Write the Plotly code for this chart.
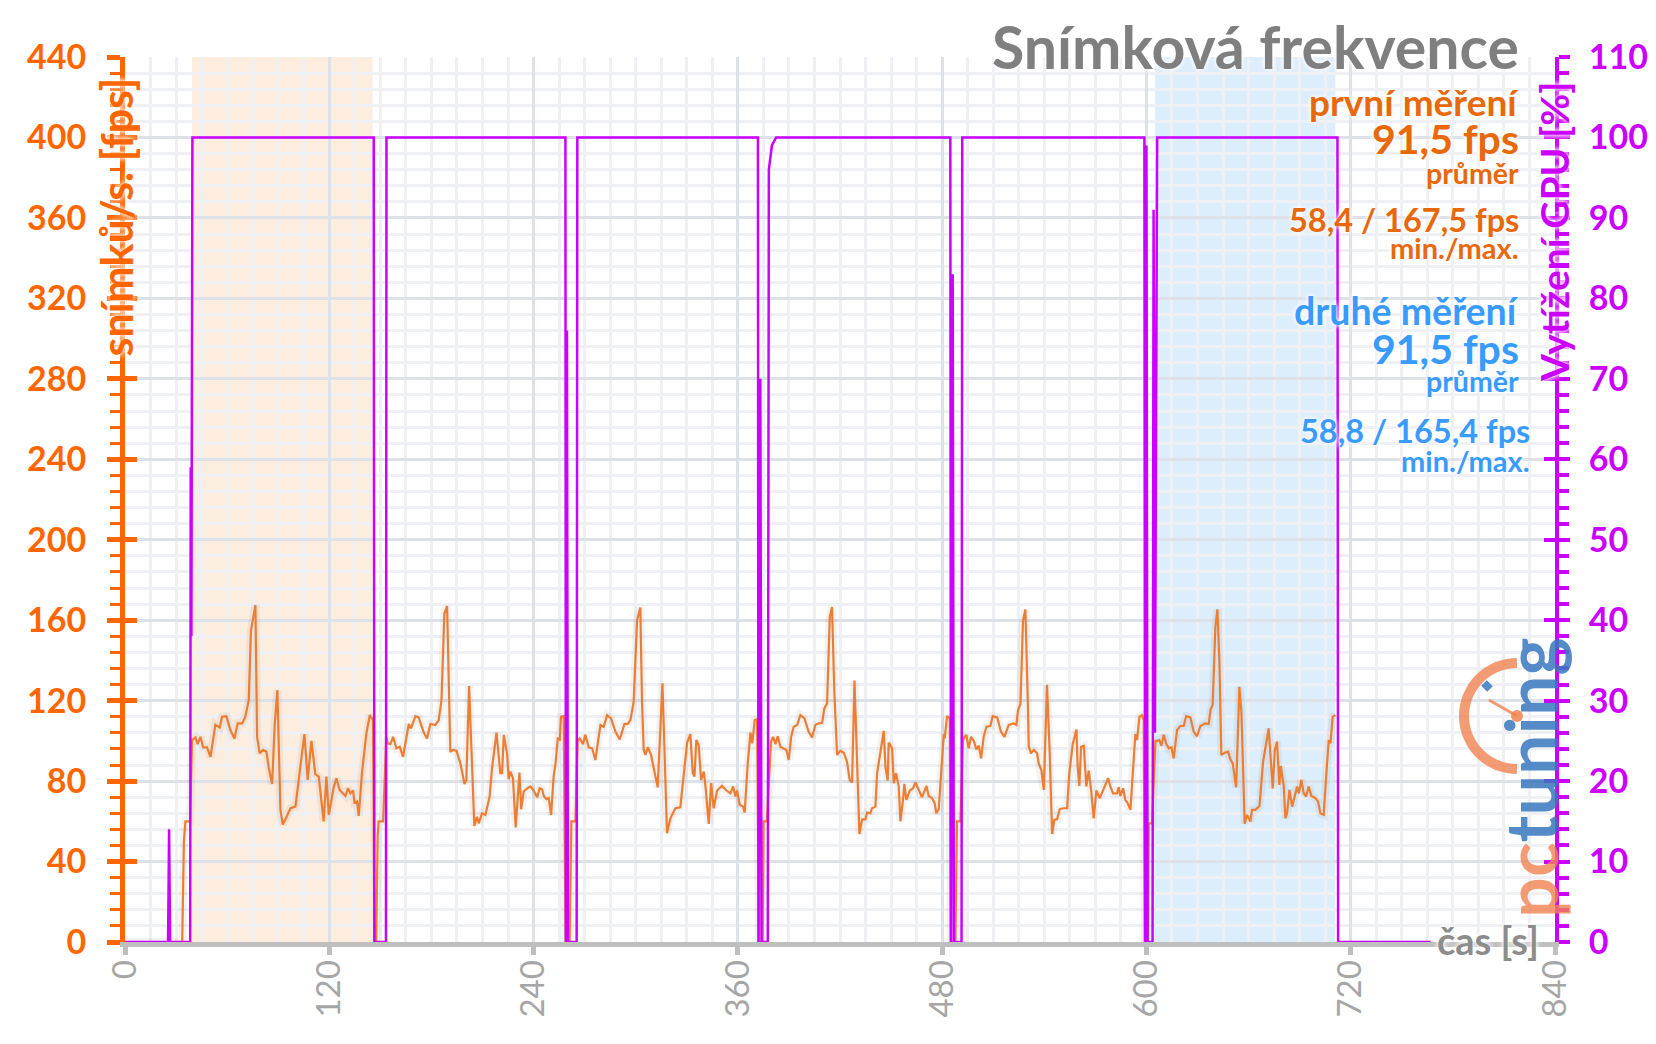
import numpy as np
import plotly.graph_objects as go

# fps trace, one list per benchmark run (time in s)
lead_t = [0, 33.6, 34.6, 35.5, 38.2]
lead_fps = [0, 0, 50, 60, 60]

run1_t = [39.4, 41.4, 42.7, 44.3, 45.9, 48.2, 50.2, 53.1, 55.6, 57.0, 59.6, 61.9, 64.3, 66.2, 68.8, 70.7, 72.7, 74.0, 76.6, 77.6, 79.1, 81.1, 83.1, 84.4, 86.4, 88.0, 89.5, 91.3, 92.7, 94.8, 97.2, 100.1, 103.0, 105.4, 107.3, 109.5, 111.8, 113.8, 116.7, 118.3, 119.7, 122.6, 124.2, 126.1, 129.5, 131.0, 132.4, 134.0, 134.8, 136.3, 137.3, 139.2, 141.8, 143.8, 145.7]
run1_fps = [100.4, 101.7, 98.4, 102.0, 96.8, 96.8, 92.0, 108.0, 106.7, 112.0, 112.3, 105.4, 101.2, 108.7, 108.7, 112.0, 120.3, 155.0, 167.5, 102.0, 93.8, 95.5, 94.6, 86.8, 78.6, 108.7, 125.2, 65.7, 58.4, 62.0, 66.5, 67.3, 87.2, 103.4, 80.6, 100.0, 83.5, 82.2, 60.0, 82.2, 63.2, 77.0, 81.4, 75.6, 72.6, 76.4, 73.9, 75.3, 69.3, 69.9, 62.7, 83.9, 103.7, 112.8, 110.3]

run2_t = [146.5, 147.6, 148.4, 149.0, 151.6, 153.5, 154.3, 155.9, 157.5, 159.4, 161.4, 163.3, 164.7, 166.7, 168.0, 170.6, 172.5, 175.5, 177.4, 179.4, 182.3, 184.3, 185.9, 187.6, 189.2, 191.1, 192.7, 194.7, 197.0, 199.4, 200.5, 202.1, 205.2, 206.8, 207.8, 209.7, 211.7, 214.2, 215.6, 218.2, 220.5, 221.5, 222.5, 224.4, 225.4, 226.4, 227.9, 229.5, 231.7, 232.7, 234.2, 236.2, 238.1, 240.1, 242.1, 243.6, 245.0, 246.0, 247.5, 248.9, 250.3, 251.8, 253.0, 254.2, 255.4, 256.1, 257.7]
run2_fps = [0, 0, 52, 60, 60, 102, 98.8, 98.4, 102.0, 96.3, 97.1, 92.1, 99.6, 108.4, 106.2, 112.3, 111.7, 104.1, 101.2, 108.4, 107.9, 110.3, 120.3, 163.3, 167.0, 94.6, 95.5, 95.1, 88.8, 78.6, 80.6, 127.2, 57.7, 62.3, 59.0, 64.0, 63.2, 72.3, 86.4, 104.1, 83.9, 83.9, 103.0, 93.8, 80.9, 84.7, 81.4, 57.0, 84.2, 66.0, 74.8, 76.4, 77.3, 75.3, 72.0, 76.4, 75.9, 72.6, 71.0, 71.5, 63.2, 82.2, 89.6, 101.2, 100.7, 112.0, 112.3]

run3_t = [258.8, 261.2, 262.2, 264.6, 265.9, 267.1, 269.1, 270.4, 272.4, 274.4, 276.3, 277.7, 279.3, 281.2, 283.2, 285.5, 288.1, 290.6, 293.4, 295.3, 296.9, 298.8, 300.8, 302.7, 303.7, 304.7, 305.7, 307.1, 309.0, 310.6, 312.9, 315.7, 318.4, 320.4, 323.3, 326.2, 328.6, 330.2, 332.1, 333.5, 334.5, 335.6, 337.0, 338.4, 340.0, 341.1, 342.9, 344.3, 345.8, 347.8, 350.7, 353.3, 355.6, 357.2, 358.6, 359.5, 361.1, 363.1, 364.0, 365.8, 367.4, 368.5, 369.9, 371.3]
run3_fps = [0, 0, 60, 60, 100.0, 101.2, 98.4, 103.0, 96.8, 96.3, 90.5, 98.8, 107.9, 107.0, 112.8, 111.2, 104.5, 100.7, 108.4, 108.4, 110.3, 119.5, 160.0, 166.3, 119.5, 95.5, 93.0, 96.8, 93.0, 86.4, 76.9, 128.6, 54.1, 61.5, 66.5, 67.0, 84.7, 99.1, 103.4, 84.2, 82.2, 100.4, 97.9, 80.6, 84.7, 76.4, 58.7, 79.0, 66.5, 75.3, 77.6, 75.3, 73.9, 77.3, 72.3, 75.3, 68.2, 67.3, 64.4, 88.8, 104.1, 98.8, 110.3, 110.7]

run4_t = [372.4, 374.6, 375.1, 377.0, 379.5, 380.7, 382.1, 383.4, 385.0, 387.0, 388.5, 389.9, 391.3, 392.8, 394.8, 396.7, 399.1, 401.6, 403.6, 405.5, 407.5, 409.5, 410.8, 412.4, 414.0, 415.3, 416.7, 418.3, 420.2, 422.2, 424.1, 425.7, 427.1, 428.5, 430.0, 431.4, 433.0, 434.9, 435.9, 437.8, 438.8, 440.8, 441.8, 443.7, 445.7, 446.7, 448.0, 448.6, 450.6, 451.6, 452.9, 454.5, 455.5, 457.0, 457.8, 459.0, 461.0, 462.9, 464.3, 466.3, 468.2, 470.8, 472.1, 474.1, 475.6, 476.6, 478.0, 479.4, 481.0, 481.5, 482.9, 484.5]
run4_fps = [0, 0, 60, 60, 99.6, 102.0, 98.4, 102.3, 97.1, 96.3, 95.5, 90.5, 102.0, 107.0, 107.9, 112.8, 111.2, 104.5, 101.7, 107.9, 108.7, 109.0, 116.1, 118.6, 161.7, 166.6, 123.6, 93.0, 95.1, 94.1, 89.7, 80.6, 79.3, 130.0, 93.8, 53.7, 61.0, 61.0, 64.4, 64.0, 66.5, 67.3, 83.9, 95.5, 105.0, 87.2, 80.2, 99.1, 96.3, 78.9, 83.9, 77.3, 60.0, 70.7, 78.6, 70.7, 75.3, 76.4, 79.3, 75.6, 72.0, 77.6, 72.6, 71.5, 69.0, 64.0, 66.0, 83.9, 103.4, 101.2, 112.3, 111.2]

run5_t = [485.0, 487.8, 488.7, 490.7, 492.3, 493.1, 494.2, 495.6, 497.0, 498.6, 500.1, 501.5, 502.9, 504.4, 506.0, 508.3, 509.7, 512.3, 514.6, 516.6, 519.1, 522.0, 523.6, 524.6, 526.0, 527.5, 528.9, 530.3, 530.9, 532.2, 533.8, 535.8, 536.7, 538.3, 539.7, 541.6, 543.2, 544.6, 545.9, 547.5, 549.1, 551.0, 553.4, 554.7, 556.7, 558.9, 559.6, 560.6, 561.6, 563.2, 564.7, 566.1, 567.5, 569.0, 570.6, 572.6, 574.5, 575.9, 577.5, 578.8, 580.4, 582.7, 583.7, 584.7, 586.3, 587.6, 589.0, 590.6, 592.1, 593.5, 594.5, 595.9, 597.4, 598.4]
run5_fps = [0, 0, 60, 60, 100.0, 102.0, 103.0, 96.3, 102.0, 100.0, 95.8, 97.6, 91.3, 102.0, 107.0, 107.4, 112.3, 111.7, 104.5, 102.0, 107.9, 108.7, 107.9, 115.3, 118.3, 160.0, 165.3, 120.3, 97.1, 93.8, 95.5, 93.8, 88.8, 85.5, 75.6, 127.9, 93.8, 53.7, 60.8, 61.0, 66.0, 66.5, 66.5, 83.9, 98.3, 105.7, 87.2, 77.6, 97.1, 97.6, 77.3, 85.2, 75.6, 61.5, 75.3, 71.5, 75.6, 78.1, 81.4, 77.3, 73.9, 73.9, 76.9, 72.6, 76.4, 70.7, 69.0, 65.7, 87.2, 103.4, 100.4, 112.0, 112.8, 110.3]

run6_t = [599.1, 600.8, 601.4, 603.3, 605.3, 606.2, 607.6, 608.8, 610.2, 611.5, 613.1, 614.7, 616.0, 618.0, 619.9, 621.9, 623.3, 625.8, 627.8, 629.7, 631.7, 634.6, 636.6, 637.6, 638.9, 640.5, 641.7, 642.9, 644.0, 646.0, 648.0, 649.3, 650.7, 652.7, 654.6, 655.8, 657.7, 659.1, 661.1, 662.0, 664.0, 666.4, 668.5, 669.9, 671.8, 672.8, 674.2, 675.4, 676.7, 678.1, 678.9, 680.7, 681.6, 682.6, 684.0, 685.6, 688.5, 689.5, 691.0, 692.4, 693.8, 695.3, 696.9, 699.3, 700.8, 702.2, 704.1, 706.1, 707.1, 708.1, 709.4, 711.0]
run6_fps = [0, 0, 59, 59, 100.0, 100.0, 100.4, 97.6, 103.0, 98.8, 96.3, 96.8, 91.3, 105.4, 107.4, 107.4, 112.3, 111.7, 104.5, 102.3, 107.4, 108.7, 108.4, 115.3, 117.8, 156.7, 165.4, 138.5, 93.0, 94.1, 94.6, 90.8, 88.8, 76.9, 126.9, 114.5, 58.8, 63.2, 59.9, 65.7, 65.7, 67.6, 89.4, 97.1, 106.2, 93.8, 76.4, 95.5, 99.6, 78.1, 87.5, 77.3, 61.5, 64.0, 75.6, 67.3, 77.3, 73.9, 80.6, 73.9, 72.3, 77.3, 72.6, 71.5, 69.9, 64.0, 63.2, 88.8, 100.4, 98.8, 112.0, 112.8]

# GPU load (%)
gpu_t = [0, 25.3, 25.9, 26.5, 38.3, 38.6, 39.0, 39.6, 146.1, 146.5, 153.3, 153.6, 258.7, 259.0, 259.6, 260.2, 265.3, 265.7, 371.8, 372.1, 373.2, 373.9, 377.6, 378.2, 380.0, 382.5, 484.8, 485.2, 486.2, 486.9, 491.4, 491.8, 598.8, 599.2, 600.0, 600.7, 603.6, 604.2, 605.0, 606.3, 712.2, 712.6, 767.0]
gpu_load = [0, 0, 14, 0, 0, 59, 38, 100, 100, 0, 0, 100, 100, 0, 76, 0, 0, 100, 100, 0, 70, 0, 0, 96, 99, 100, 100, 0, 83, 0, 0, 100, 100, 0, 99, 0, 0, 91, 26, 100, 100, 0, 0]

first_window = [39.4, 145.4]
second_window = [605.0, 711.0]

fps_t = lead_t + run1_t + run2_t + run3_t + run4_t + run5_t + run6_t
fps = lead_fps + run1_fps + run2_fps + run3_fps + run4_fps + run5_fps + run6_fps

W, H = 1656, 1044
L, R, T, B = 125, 101, 57, 102
PW, PH = W - L - R, H - T - B


def px(x):
    return (x - L) / PW


def py(y):
    return (H - B - y) / PH


FONT = "Lato"
ORANGE = "#ff6600"
MAG = "#cc00ff"
GLOW = "0px 0px 4px white, 0px 0px 6px white"

fig = go.Figure()
fig.add_trace(go.Scatter(x=fps_t, y=fps, mode="lines",
                         line=dict(color="rgba(90,90,90,0.08)", width=8),
                         hoverinfo="skip", showlegend=False))
fig.add_trace(go.Scatter(x=fps_t, y=fps, mode="lines",
                         line=dict(color="#ed7d31", width=2.2), showlegend=False))
fig.add_trace(go.Scatter(x=gpu_t, y=gpu_load, mode="lines", yaxis="y2",
                         line=dict(color=MAG, width=2.5), showlegend=False))
fig.add_trace(go.Scatter(x=[], y=[], yaxis="y3", showlegend=False))
fig.add_trace(go.Scatter(x=[], y=[], yaxis="y4", showlegend=False))

fig.add_shape(type="rect", xref="x", yref="paper", x0=first_window[0], x1=first_window[1],
              y0=0, y1=1, fillcolor="rgba(245,165,90,0.2)", line_width=0, layer="between")
fig.add_shape(type="rect", xref="x", yref="paper", x0=second_window[0], x1=second_window[1],
              y0=0, y1=1, fillcolor="rgba(50,150,240,0.17)", line_width=0, layer="between")

# pctuning gauge
cx, cy = px(1517), py(716)
ang = np.linspace(np.pi / 2, 3 * np.pi / 2, 40)
arc = "M " + " L ".join(f"{53 * np.cos(a):.1f},{53 * np.sin(a):.1f}" for a in ang)
fig.add_shape(type="path", xref="paper", yref="paper", xsizemode="pixel", ysizemode="pixel",
              xanchor=cx, yanchor=cy, path=arc, line=dict(color="rgba(240,130,80,0.8)", width=10))
fig.add_shape(type="path", xref="paper", yref="paper", xsizemode="pixel", ysizemode="pixel",
              xanchor=cx, yanchor=cy, path="M 0,0 L -28,16",
              line=dict(color="rgba(240,130,80,0.8)", width=3))
fig.add_shape(type="circle", xref="paper", yref="paper", xsizemode="pixel", ysizemode="pixel",
              xanchor=cx, yanchor=cy, x0=-6, x1=6, y0=-6, y1=6,
              fillcolor="rgba(240,130,80,0.85)", line_width=0)
fig.add_shape(type="path", xref="paper", yref="paper", xsizemode="pixel", ysizemode="pixel",
              xanchor=cx, yanchor=cy, path="M -27,27 L -33,33",
              line=dict(color="rgba(55,120,190,0.85)", width=8))

ann = []


def text(s, x, y, size, color, xanchor="right", yanchor="middle", angle=0, weight="bold"):
    ann.append(dict(text=s, xref="paper", yref="paper", x=px(x), y=py(y), xanchor=xanchor,
                    yanchor=yanchor, showarrow=False, textangle=angle,
                    font=dict(family=FONT, size=size, color=color, weight=weight, shadow=GLOW)))


text("Snímková frekvence", 1521, 46, 59, "#7f7f7f")
O2, BL = "#e8680c", "#3a9bff"
text("první měření", 1521, 101, 37, O2)
text("91,5 fps", 1521, 139, 41, O2)
text("průměr", 1521, 173, 28.5, O2)
text("58,4 / 167,5 fps", 1521, 220, 32.5, O2)
text("min./max.", 1521, 247, 29, O2)
text("druhé měření", 1521, 310, 37.5, BL)
text("91,5 fps", 1521, 348, 41, BL)
text("průměr", 1521, 381, 28.5, BL)
text("58,8 / 165,4 fps", 1532, 430, 32.5, BL)
text("min./max.", 1532, 460, 29, BL)
text("snímků/s. [fps]", 116, 76, 43, ORANGE, xanchor="center", yanchor="top", angle=-90)
text("Vytížení GPU [%]", 1554, 80, 39, MAG, xanchor="center", yanchor="top", angle=-90)
text("čas [s]", 1541, 940, 38, "#8c8c8c")
ann.append(dict(text='<span style="color:rgba(240,130,80,0.8)">pc</span>'
                     '<span style="color:rgba(55,120,190,0.85)">tuning</span>',
                xref="paper", yref="paper", x=px(1530), y=py(778), xanchor="center",
                yanchor="middle", showarrow=False, textangle=-90,
                font=dict(family=FONT, size=72, weight="bold")))

grid_major, grid_minor = "#dde1e8", "#eef0f4"

fig.update_layout(
    width=W, height=H, margin=dict(l=L, r=R, t=T, b=B, autoexpand=False),
    paper_bgcolor="white", plot_bgcolor="white", annotations=ann,
    xaxis=dict(range=[0, 840], tick0=0, dtick=120, ticks="outside", ticklen=8, tickwidth=5,
               tickcolor="#bfbfbf", showline=True, linecolor="#bfbfbf", linewidth=5,
               tickangle=-90, tickfont=dict(family=FONT, size=33, color="#a6a6a6"),
               ticklabelstandoff=-8,
               showgrid=True, gridcolor=grid_major, gridwidth=2.5, zeroline=False,
               layer="below traces", automargin=False,
               minor=dict(dtick=15, showgrid=True, gridcolor=grid_minor, gridwidth=2.5)),
    yaxis=dict(range=[0, 440], tick0=0, dtick=40, ticks="outside", ticklen=13, tickwidth=5,
               tickcolor=ORANGE, showline=True, linecolor=ORANGE, linewidth=5,
               tickfont=dict(family=FONT, size=34, color=ORANGE, weight="bold"),
               ticklabelstandoff=14, showgrid=True, gridcolor=grid_major, gridwidth=2.5,
               zeroline=False, automargin=False,
               minor=dict(dtick=8, ticks="outside", ticklen=10, tickwidth=3, tickcolor=ORANGE,
                          showgrid=True, gridcolor=grid_minor, gridwidth=2.5)),
    yaxis2=dict(range=[0, 110], overlaying="y", side="right", anchor="x", tick0=0, dtick=10,
                ticks="outside", ticklen=11, tickwidth=4, tickcolor=MAG, showline=True,
                linecolor=MAG, linewidth=4, showgrid=False, zeroline=False, automargin=False,
                tickfont=dict(family=FONT, size=34, color=MAG, weight="bold"),
                ticklabelstandoff=12,
                minor=dict(dtick=2, ticks="outside", ticklen=10, tickwidth=4, tickcolor=MAG)),
    yaxis3=dict(range=[0, 440], overlaying="y", side="left", anchor="x", dtick=40,
                ticks="inside", ticklen=12, tickwidth=5, tickcolor=ORANGE, showticklabels=False,
                showgrid=False, showline=False, zeroline=False),
    yaxis4=dict(range=[0, 110], overlaying="y", side="right", anchor="x", dtick=10,
                ticks="inside", ticklen=11, tickwidth=4, tickcolor=MAG, showticklabels=False,
                showgrid=False, showline=False, zeroline=False),
)

fig.write_html("out.html", config={"displayModeBar": False},
               post_script="document.body.style.margin='0';")
